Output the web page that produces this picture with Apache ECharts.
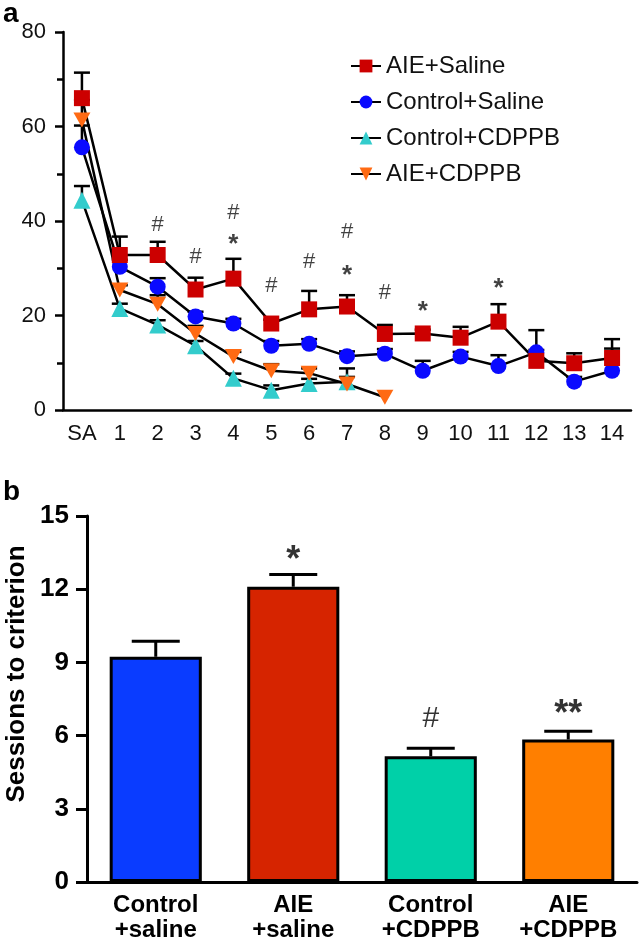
<!DOCTYPE html>
<html>
<head>
<meta charset="utf-8">
<script src="https://cdn.jsdelivr.net/npm/echarts@6/dist/echarts.min.js"></script>
<style>
html,body{margin:0;padding:0;background:#fff;}
#chart{width:641px;height:943px;}
</style>
</head>
<body>
<div id="chart"></div>
<script>
// ---------- Panel a data ----------
const sessions = ['SA','1','2','3','4','5','6','7','8','9','10','11','12','13','14'];
const aieSaline     = [66.0, 32.8, 32.8, 25.5, 27.8, 18.3, 21.3, 21.9, 16.1, 16.2, 15.3, 18.7, 10.4, 9.9, 11.0];
const aieSalineErr  = [5.4, 3.9, 2.8, 2.5, 4.2, 0.8, 3.9, 2.4, 1.9, 0.8, 2.3, 3.7, 2.3, 2.1, 4.0];
const ctrlSaline    = [55.6, 30.3, 26.1, 19.8, 18.3, 13.6, 14.0, 11.4, 11.9, 8.3, 11.3, 9.3, 12.2, 6.0, 8.3];
const ctrlSalineErr = [4.6, 1.5, 1.8, 1.0, 1.0, 1.0, 1.0, 1.0, 1.0, 2.1, 1.0, 2.3, 4.7, 1.0, 4.7];
const ctrlCdppb     = [44.4, 21.5, 18.0, 13.6, 6.7, 4.2, 5.6, 6.0];
const ctrlCdppbErr  = [3.0, 1.0, 1.0, 1.0, 1.0, 1.0, 1.0, 1.0];
const aieCdppb      = [61.4, 25.4, 22.4, 16.2, 11.3, 8.3, 7.8, 5.5, 2.7];
const aieCdppbErr   = [4.2, 1.0, 1.9, 1.6, 1.0, 1.4, 1.0, 3.3, 0];
const sigACat   = ['2','3','4','4','5','6','7','7','8','9','11'];
const sigAValue = [39.2, 32.4, 41.7, 36.0, 26.2, 31.4, 37.7, 29.5, 24.7, 21.9, 26.8];
const sigAText  = ['#','#','#','*','#','#','#','*','#','*','*'];

// ---------- Panel b data ----------
const groups   = ['Control\n+saline', 'AIE\n+saline', 'Control\n+CDPPB', 'AIE\n+CDPPB'];
const sessionsToCriterion = [9.23, 12.1, 5.15, 5.84];
const sessionsErr = [0.64, 0.5, 0.33, 0.34];
const sigBValue = [null, 13.4, 6.7, 7.1];
const sigBText  = ['', '*', '#', '**'];

const FONT = "'Liberation Sans', Arial, Helvetica, sans-serif";
const barColors = ['#0a3cff', '#d62400', '#00d0a8', '#ff7f00'];
const downTri = 'path://M0,0 L20,0 L10,18 Z';

function errRender(capHalf, lw) {
  return function (params, api) {
    const x = api.value(0), v = api.value(1), e = api.value(2);
    if (!e) return null;
    const p0 = api.coord([x, v]);
    const p1 = api.coord([x, v + e]);
    const st = {stroke: '#000', lineWidth: lw};
    return {type: 'group', children: [
      {type: 'line', shape: {x1: p0[0], y1: p0[1], x2: p1[0], y2: p1[1]}, style: st},
      {type: 'line', shape: {x1: p1[0] - capHalf, y1: p1[1], x2: p1[0] + capHalf, y2: p1[1]}, style: st}
    ]};
  };
}
function errData(vals, errs) { return vals.map((v, i) => [i, v, errs[i]]); }

const axisLineA = {show: true, lineStyle: {color: '#000', width: 2.5}};
const axisLineB = {show: true, lineStyle: {color: '#000', width: 3}};

const starStyleA = {fontSize: 26, fontWeight: 'bold', offset: [0, 5]};
const starStyleB = {fontSize: 36, fontWeight: 'bold', offset: [0, 6]};

const chart = echarts.init(document.getElementById('chart'), null, {renderer: 'canvas'});
chart.setOption({
  animation: false,
  backgroundColor: '#fff',
  textStyle: {fontFamily: FONT},
  graphic: [
    {type: 'text', left: 3, top: 0, style: {text: 'a', font: 'bold 28px ' + FONT, fill: '#000'}},
    {type: 'text', left: 3, top: 478, style: {text: 'b', font: 'bold 28px ' + FONT, fill: '#000'}},
    {type: 'text', x: 17, y: 674, rotation: Math.PI / 2,
     style: {text: 'Sessions to criterion', font: 'bold 26px ' + FONT, fill: '#000', textAlign: 'center', textVerticalAlign: 'middle'}}
  ],
  legend: {
    orient: 'vertical', left: 345, top: 49, itemGap: 12, itemWidth: 30, itemHeight: 16,
    textStyle: {fontSize: 24, color: '#111', fontFamily: FONT},
    data: ['AIE+Saline', 'Control+Saline', 'Control+CDPPB', 'AIE+CDPPB']
  },
  grid: [
    {left: 63, top: 32, width: 568, height: 378},
    {left: 87, top: 516, width: 550, height: 367}
  ],
  xAxis: [
    {type: 'category', gridIndex: 0, data: sessions, axisLine: axisLineA,
     axisTick: {alignWithLabel: true, interval: 0, length: 8, lineStyle: {width: 2.5, color: '#000'}},
     axisLabel: {interval: 0, fontSize: 22, color: '#111', margin: 13, fontFamily: FONT}},
    {type: 'category', gridIndex: 1, data: groups, axisLine: axisLineB,
     axisTick: {alignWithLabel: true, interval: 0, length: 9, lineStyle: {width: 3, color: '#000'}},
     axisLabel: {interval: 0, fontSize: 24, fontWeight: 'bold', color: '#000', margin: 11, lineHeight: 25, fontFamily: FONT}}
  ],
  yAxis: [
    {type: 'value', gridIndex: 0, min: 0, max: 80, interval: 20, axisLine: axisLineA,
     axisTick: {show: true, length: 8, lineStyle: {width: 2.5, color: '#000'}},
     minorTick: {show: true, splitNumber: 2, length: 6, lineStyle: {width: 2.5, color: '#000'}},
     splitLine: {show: false},
     axisLabel: {fontSize: 22, color: '#111', margin: 17, fontFamily: FONT}},
    {type: 'value', gridIndex: 1, min: 0, max: 15, interval: 3, axisLine: axisLineB,
     axisTick: {show: true, length: 11, lineStyle: {width: 3, color: '#000'}},
     splitLine: {show: false},
     axisLabel: {fontSize: 26, fontWeight: 'bold', color: '#000', margin: 18, fontFamily: FONT}}
  ],
  series: [
    {type: 'custom', xAxisIndex: 0, yAxisIndex: 0, z: 1, renderItem: errRender(8, 2.5), encode: {x: 0, y: 1}, data: errData(ctrlCdppb, ctrlCdppbErr)},
    {type: 'custom', xAxisIndex: 0, yAxisIndex: 0, z: 1, renderItem: errRender(8, 2.5), encode: {x: 0, y: 1}, data: errData(aieCdppb, aieCdppbErr)},
    {type: 'custom', xAxisIndex: 0, yAxisIndex: 0, z: 1, renderItem: errRender(8, 2.5), encode: {x: 0, y: 1}, data: errData(ctrlSaline, ctrlSalineErr)},
    {type: 'custom', xAxisIndex: 0, yAxisIndex: 0, z: 1, renderItem: errRender(8, 2.5), encode: {x: 0, y: 1}, data: errData(aieSaline, aieSalineErr)},
    {name: 'Control+CDPPB', type: 'line', xAxisIndex: 0, yAxisIndex: 0, z: 2, data: ctrlCdppb,
     symbol: 'triangle', symbolSize: 17, showAllSymbol: true,
     lineStyle: {color: '#000', width: 2.5}, itemStyle: {color: '#33cccc', borderWidth: 0}},
    {name: 'AIE+CDPPB', type: 'line', xAxisIndex: 0, yAxisIndex: 0, z: 2, data: aieCdppb,
     symbol: downTri, symbolSize: [17, 15], showAllSymbol: true,
     lineStyle: {color: '#000', width: 2.5}, itemStyle: {color: '#ff6a13', borderWidth: 0}},
    {name: 'Control+Saline', type: 'line', xAxisIndex: 0, yAxisIndex: 0, z: 2, data: ctrlSaline,
     symbol: 'circle', symbolSize: 16, showAllSymbol: true,
     lineStyle: {color: '#000', width: 2.5}, itemStyle: {color: '#0a0aff', borderWidth: 0}},
    {name: 'AIE+Saline', type: 'line', xAxisIndex: 0, yAxisIndex: 0, z: 2, data: aieSaline,
     symbol: 'rect', symbolSize: 16, showAllSymbol: true,
     lineStyle: {color: '#000', width: 2.5}, itemStyle: {color: '#cc0000', borderWidth: 0}},
    {type: 'scatter', xAxisIndex: 0, yAxisIndex: 0, z: 3, symbolSize: 0, silent: true,
     data: sigACat.map((c, i) => ({value: [c, sigAValue[i], sigAText[i]],
       label: sigAText[i] === '*' ? starStyleA : {}})),
     label: {show: true, position: 'inside', color: '#111', fontSize: 22, fontFamily: FONT,
       formatter: p => p.value[2]}},
    {type: 'bar', xAxisIndex: 1, yAxisIndex: 1, barWidth: '67%', z: 2,
     data: sessionsToCriterion.map((v, i) => ({value: v, itemStyle: {color: barColors[i]}})),
     itemStyle: {borderColor: '#000', borderWidth: 3}},
    {type: 'custom', xAxisIndex: 1, yAxisIndex: 1, z: 3, renderItem: errRender(24, 3), encode: {x: 0, y: 1},
     data: errData(sessionsToCriterion, sessionsErr)},
    {type: 'scatter', xAxisIndex: 1, yAxisIndex: 1, z: 4, symbolSize: 0, silent: true,
     data: groups.map((g, i) => ({value: [i, sigBValue[i], sigBText[i]],
       label: sigBText[i].indexOf('*') >= 0 ? starStyleB : {}})).filter(d => d.value[1] !== null),
     label: {show: true, position: 'inside', color: '#000', fontSize: 30, fontFamily: FONT,
       formatter: p => p.value[2]}}
  ]
});
</script>
</body>
</html>
